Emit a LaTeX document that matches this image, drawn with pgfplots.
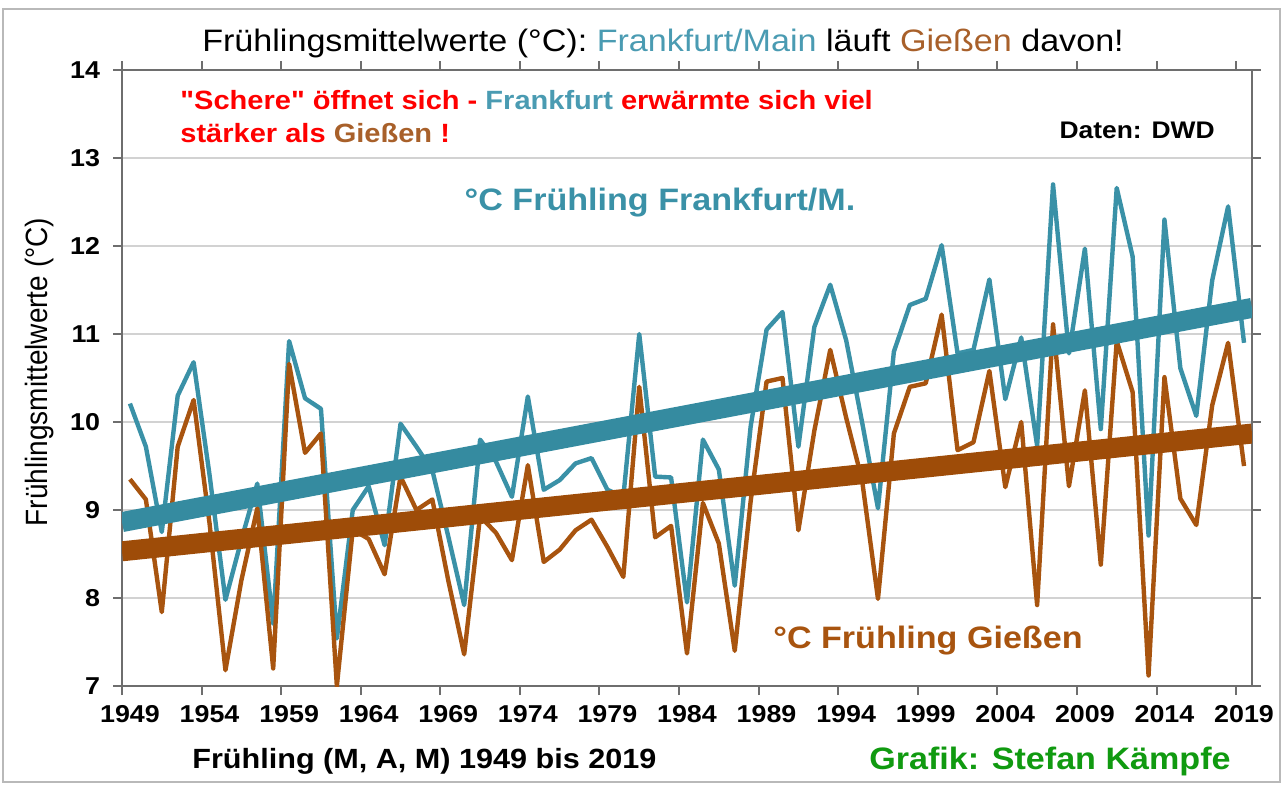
\documentclass[border=0pt]{standalone}
\usepackage{fontspec}
\setmainfont{Liberation Sans}[FakeStretch=1.1]
\newfontfamily\plainfont{Liberation Sans}
\newfontfamily\rawfont{Liberation Sans}[FakeStretch=1.1]
\usepackage{pgfplots}
\usepackage{pgfplotstable}
\pgfplotsset{compat=1.18}

\definecolor{fblue}{HTML}{3A91A7}
\definecolor{ftrend}{HTML}{358BA0}
\definecolor{gbrown}{HTML}{A8540F}
\definecolor{gtrend}{HTML}{9E4C08}
\definecolor{tblue}{HTML}{4A9BB2}
\definecolor{tbrown}{HTML}{A8602A}
\definecolor{gridc}{HTML}{D2D2D2}
\definecolor{axc}{HTML}{6E6E6E}
\definecolor{grn}{HTML}{109A10}
\definecolor{rd}{HTML}{FF0000}

\pgfplotstableread{
year ffm gie
1949 10.21 9.35
1950 9.72 9.12
1951 8.75 7.84
1952 10.30 9.72
1953 10.68 10.25
1954 9.40 8.85
1955 7.98 7.18
1956 8.66 8.20
1957 9.30 9.02
1958 7.71 7.20
1959 10.92 10.66
1960 10.27 9.65
1961 10.15 9.87
1962 7.54 7.00
1963 9.00 8.78
1964 9.27 8.67
1965 8.60 8.27
1966 9.98 9.38
1967 9.72 9.00
1968 9.45 9.12
1969 8.70 8.20
1970 7.92 7.36
1971 9.80 8.93
1972 9.55 8.74
1973 9.15 8.43
1974 10.29 9.51
1975 9.23 8.41
1976 9.34 8.55
1977 9.53 8.77
1978 9.59 8.89
1979 9.23 8.58
1980 9.15 8.24
1981 11.00 10.40
1982 9.38 8.69
1983 9.37 8.82
1984 7.95 7.37
1985 9.80 9.08
1986 9.46 8.62
1987 8.14 7.40
1988 9.95 9.10
1989 11.05 10.46
1990 11.25 10.50
1991 9.72 8.77
1992 11.08 9.90
1993 11.56 10.82
1994 10.93 10.05
1995 10.00 9.34
1996 9.02 7.99
1997 10.80 9.87
1998 11.33 10.40
1999 11.40 10.44
2000 12.01 11.22
2001 10.78 9.68
2002 10.82 9.77
2003 11.62 10.58
2004 10.26 9.26
2005 10.96 10.00
2006 9.73 7.92
2007 12.70 11.11
2008 10.78 9.27
2009 11.97 10.36
2010 9.92 8.38
2011 12.66 10.92
2012 11.88 10.34
2013 8.71 7.12
2014 12.30 10.51
2015 10.61 9.13
2016 10.07 8.83
2017 11.61 10.19
2018 12.45 10.90
2019 10.90 9.50
}\datatable

\begin{document}
\begin{tikzpicture}
\begin{scope}[x=0.5pt,y=-0.5pt]
\path (0,0) rectangle (1283,784);
\draw[gray!55, line width=1pt] (3,9) rectangle (1280,782);
\end{scope}
\begin{axis}[
  at={(61pt,-343pt)}, anchor=south west,
  scale only axis, width=565pt, height=308pt,
  xmin=1948.5, xmax=2019.5, ymin=7, ymax=14,
  xtick={1948.5,1953.5,...,2018.5},
  xticklabels={},
  extra x ticks={1949,1954,...,2019},
  extra x tick style={major tick length=0pt},
  ytick={7,...,14},
  tick align=outside,
  major tick length=4.5pt,
  tick style={draw=axc, line width=1pt},
  axis line style={draw=axc, line width=1.2pt},
  ymajorgrids=true,
  grid style={draw=gridc, line width=1pt},
  /pgf/number format/1000 sep={},
  /pgf/number format/assume math mode=true,
  tick label style={font=\fontsize{12.2}{14}\selectfont\bfseries},
  xticklabel style={yshift=-6pt},
  yticklabel style={xshift=-3pt},
  clip=true,
]
\addplot[fblue, line width=2.2pt, line join=round] table[x=year, y=ffm] {\datatable};
\addplot[gbrown, line width=2.2pt, line join=round] table[x=year, y=gie] {\datatable};
\addplot[ftrend, line width=10pt] coordinates {(1948.5,8.863) (2019.5,11.297)};
\addplot[gtrend, line width=10pt] coordinates {(1948.5,8.531) (2019.5,9.869)};
\end{axis}
\begin{scope}[x=0.5pt,y=-0.5pt]
\node[anchor=center, inner sep=0pt] at (663,43) {\fontsize{15.5}{18}\selectfont Frühlingsmittelwerte (°C): \textcolor{tblue}{Frankfurt/Main} läuft \textcolor{tbrown}{Gießen} davon!};
\node[anchor=west, inner sep=0pt] at (180,100) {\fontsize{13.2}{15}\selectfont\bfseries\textcolor{rd}{{\rawfont\bfseries "}Schere{\rawfont\bfseries "} öffnet sich -} \textcolor{tblue}{Frankfurt} \textcolor{rd}{erwärmte sich viel}};
\node[anchor=west, inner sep=0pt] at (180,133) {\fontsize{13.2}{15}\selectfont\bfseries\textcolor{rd}{stärker als} \textcolor{tbrown}{Gießen} \textcolor{rd}{!}};
\node[anchor=east, inner sep=0pt] at (1215,130) {\fontsize{12}{14}\selectfont\bfseries Daten: DWD};
\node[anchor=center, inner sep=0pt, text=fblue] at (660,203) {\fontsize{15.5}{18}\selectfont\bfseries °C Frühling Frankfurt/M.};
\node[anchor=center, inner sep=0pt, text=gbrown] at (928,641) {\fontsize{15.5}{18}\selectfont\bfseries °C Frühling Gießen};
\node[anchor=west, inner sep=0pt] at (192,761) {\fontsize{13.9}{16}\selectfont\bfseries Frühling (M, A, M) 1949 bis 2019};
\node[anchor=east, inner sep=0pt, text=grn] at (1231,761) {\fontsize{15.5}{18}\selectfont\bfseries Grafik: Stefan Kämpfe};
\node[rotate=90, anchor=center, inner sep=0pt] at (40,372) {\scalebox{1}[1.1]{\plainfont\fontsize{14}{16}\selectfont Frühlingsmittelwerte (°C)}};
\end{scope}
\end{tikzpicture}
\end{document}
